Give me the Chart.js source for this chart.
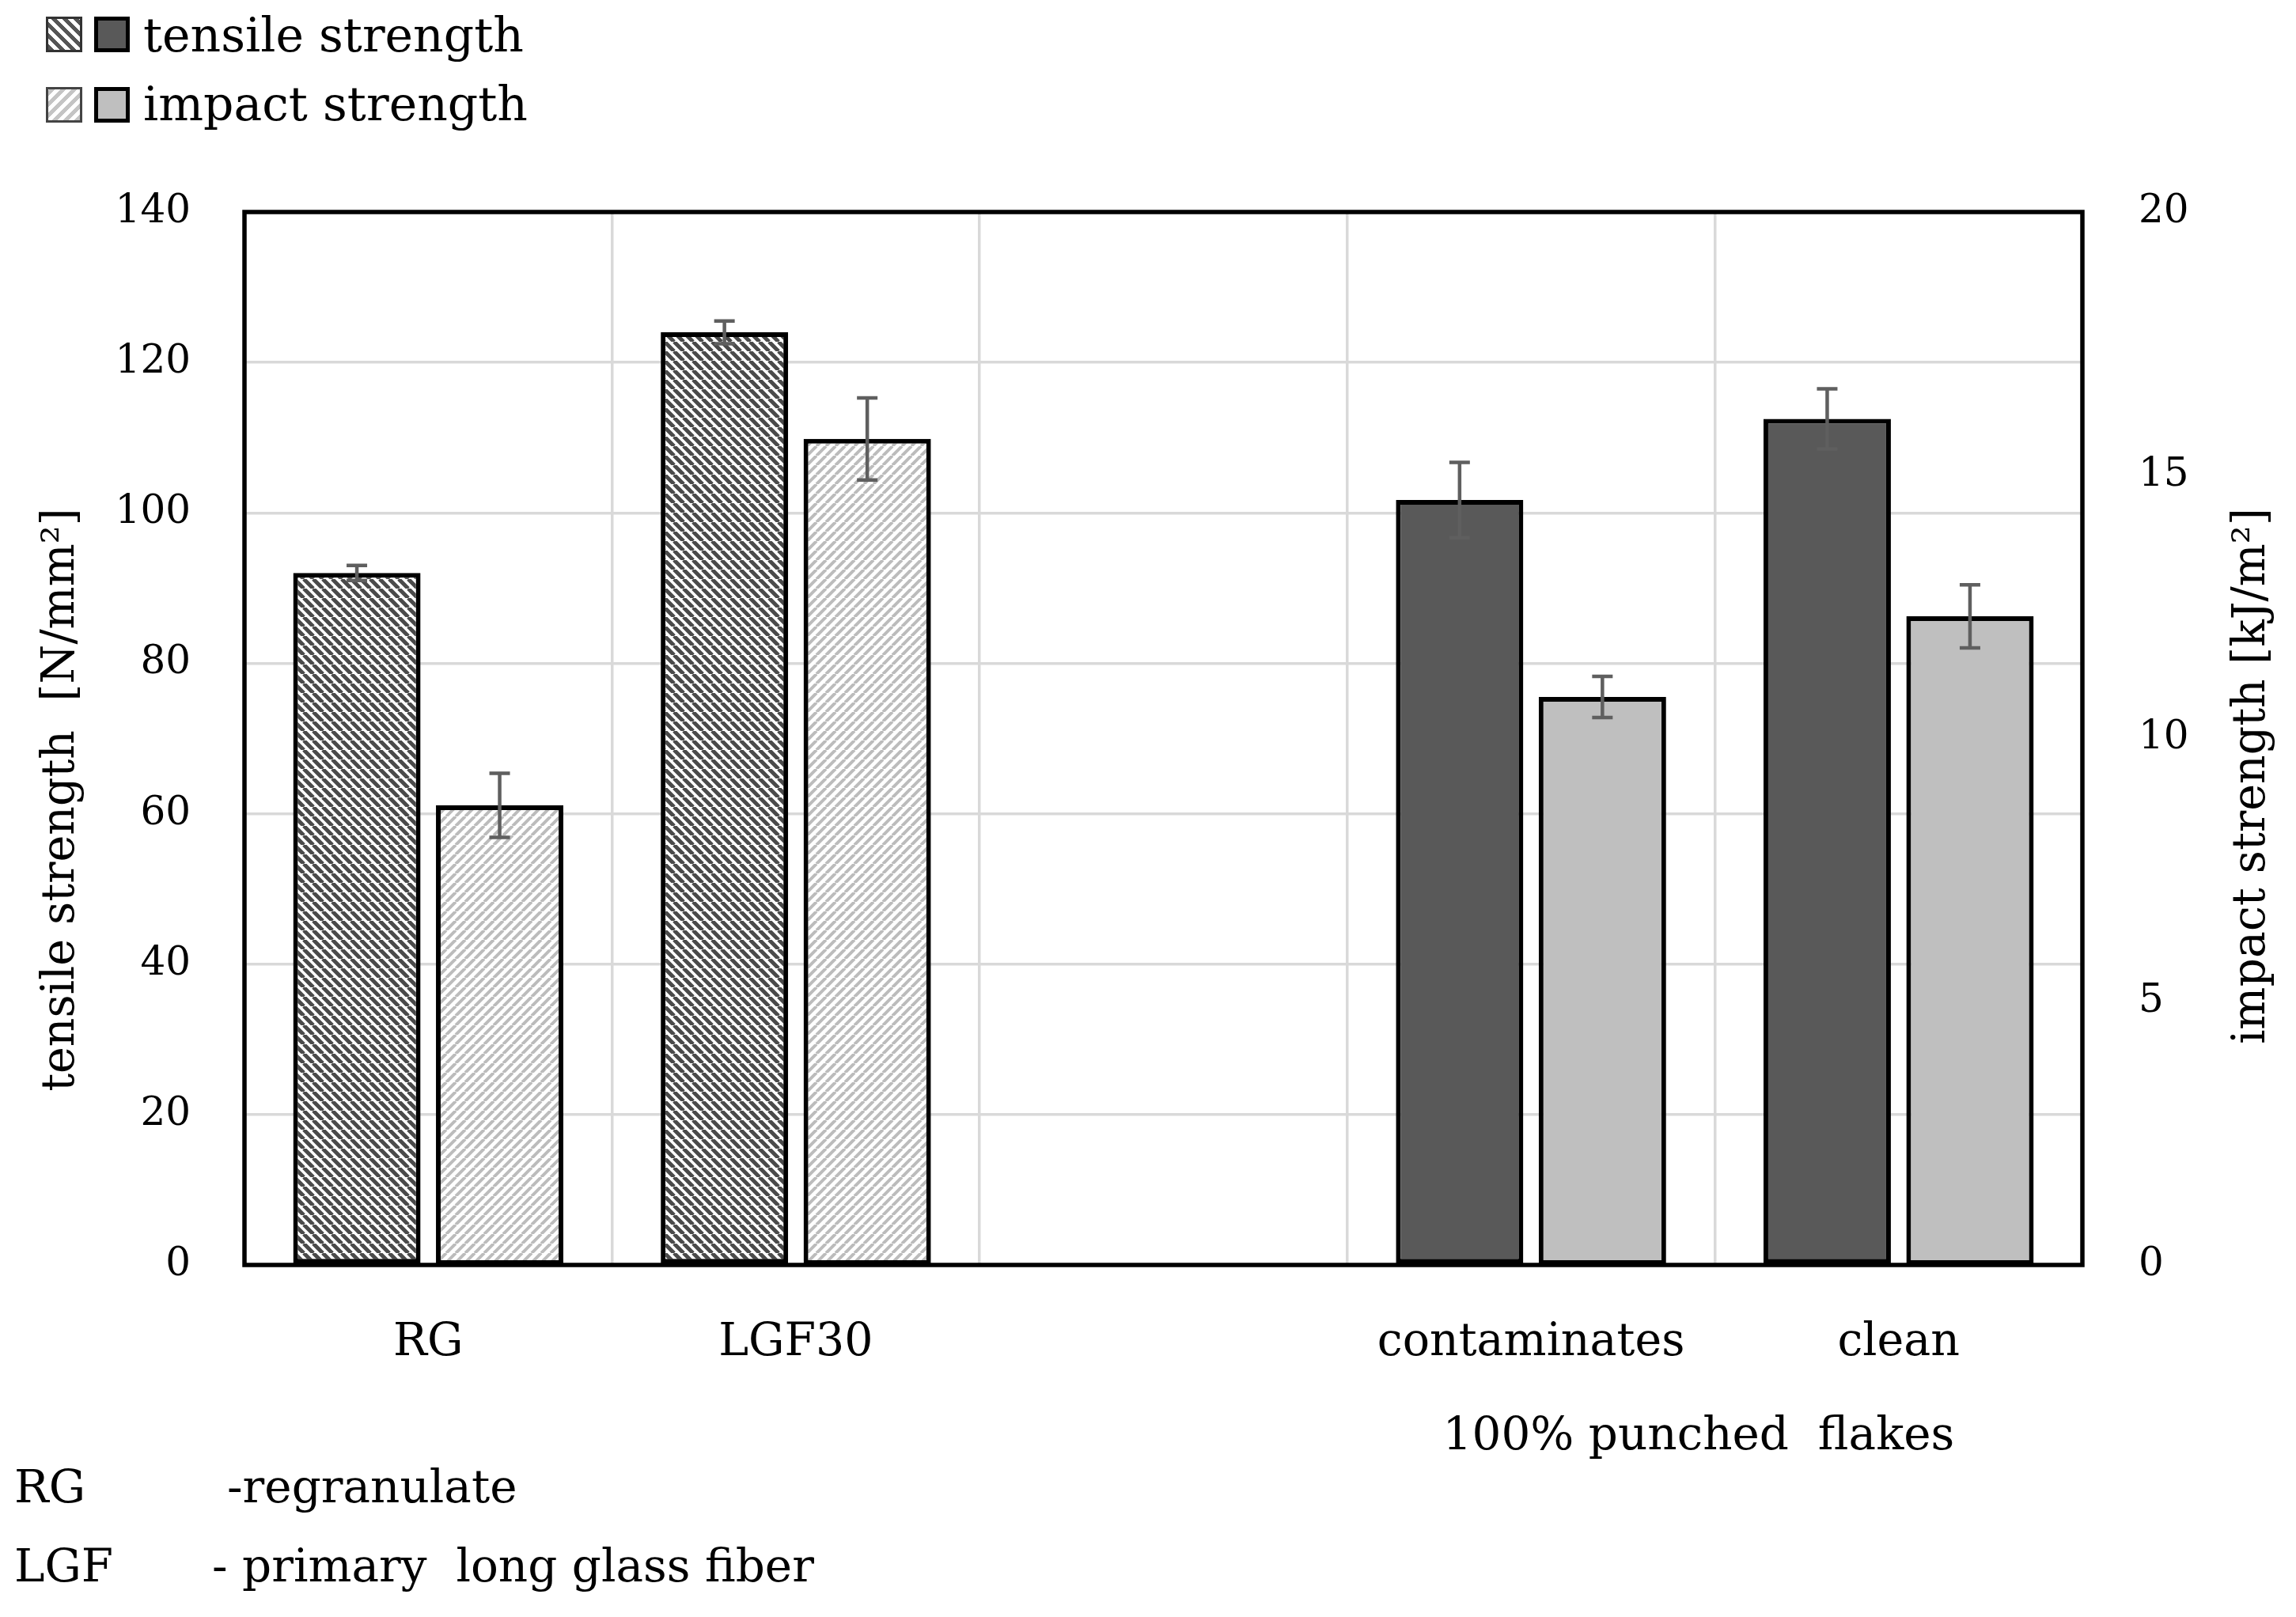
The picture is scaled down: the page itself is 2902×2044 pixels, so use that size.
<!DOCTYPE html>
<html>
<head>
<meta charset="utf-8">
<script src="https://cdn.jsdelivr.net/npm/chart.js@4.4.1/dist/chart.umd.min.js"></script>
<style>
  body { margin: 0; background: #fff; }
  #wrap { position: relative; width: 2902px; height: 2044px; font-family: 'DejaVu Serif', serif; color: #000; }
  #wrap canvas { position: absolute; left: 0; top: 0; }
  .txt { position: absolute; white-space: pre; line-height: 1; transform: translateY(-50%); }
  .box { position: absolute; box-sizing: border-box; }
</style>
</head>
<body>
<div id="wrap">
  <canvas id="strengthChart"></canvas>

  <div class="box" style="left:58px;top:21px;width:46px;height:45px;border:3px solid #333;background:repeating-linear-gradient(45deg,#555 0 5px,#fff 5px 10px);"></div>
  <div class="box" style="left:119px;top:21px;width:45px;height:45px;border:5px solid #000;background:#595959;"></div>
  <div class="txt" style="left:181px;top:44px;font-size:60px;">tensile strength</div>

  <div class="box" style="left:58px;top:110px;width:46px;height:45px;border:3px solid #444;background:repeating-linear-gradient(-45deg,#c4c4c4 0 5px,#fff 5px 10px);"></div>
  <div class="box" style="left:119px;top:110px;width:45px;height:45px;border:5px solid #000;background:#bfbfbf;"></div>
  <div class="txt" style="left:181px;top:131px;font-size:60px;">impact strength</div>

  <div class="txt" style="left:2147px;top:1812px;font-size:58px;transform:translate(-50%,-50%);">100% punched  flakes</div>
  <div class="txt" style="left:18px;top:1879px;font-size:58px;">RG</div>
  <div class="txt" style="left:287px;top:1879px;font-size:58px;">-regranulate</div>
  <div class="txt" style="left:18px;top:1979px;font-size:58px;">LGF</div>
  <div class="txt" style="left:268px;top:1979px;font-size:58px;">- primary  long glass fiber</div>
</div>

<script>
// ---- data ----
const categories = ['RG', 'LGF30', '', 'contaminates', 'clean'];
const tensileValues = [92, 124, null, 101.7, 112.5];
const tensileErrors = [1, 1.5, null, 5, 4];
const impactValues = [8.73, 15.69, null, 10.79, 12.32];
const impactErrors = [0.61, 0.78, null, 0.39, 0.6];
const tensileTicks = [0, 20, 40, 60, 80, 100, 120, 140];
const impactTicks = [0, 5, 10, 15, 20];

const FONT = 'DejaVu Serif';

function makeHatch(color, lineWidth, forward) {
    const s = 12;
    const c = document.createElement('canvas');
    c.width = s; c.height = s;
    const g = c.getContext('2d');
    g.fillStyle = '#fff';
    g.fillRect(0, 0, s, s);
    g.strokeStyle = color;
    g.lineWidth = lineWidth;
    g.beginPath();
    for (let k = -1; k <= 1; k++) {
        if (forward) {
            g.moveTo(k * s, s); g.lineTo(k * s + s, 0);
        } else {
            g.moveTo(k * s, 0); g.lineTo(k * s + s, s);
        }
    }
    g.stroke();
    return g.createPattern(c, 'repeat');
}

const ctx = document.getElementById('strengthChart').getContext('2d');
const darkHatch = makeHatch('#4a4a4a', 5, false);
const lightHatch = makeHatch('#bcbcbc', 4, true);

const errorBars = {
    id: 'errorBars',
    afterDatasetsDraw(chart) {
        const c = chart.ctx;
        const area = chart.chartArea;
        // plot frame
        c.save();
        c.strokeStyle = '#000';
        c.lineWidth = 5.5;
        c.strokeRect(area.left, area.top, area.right - area.left, area.bottom - area.top);
        c.restore();

        chart.data.datasets.forEach((ds, i) => {
            const meta = chart.getDatasetMeta(i);
            const scale = chart.scales[ds.yAxisID];
            meta.data.forEach((bar, j) => {
                const v = ds.data[j];
                const e = ds.errors[j];
                if (v == null) return;
                const yTop = scale.getPixelForValue(v + e);
                const yBot = scale.getPixelForValue(v - e);
                c.save();
                c.strokeStyle = '#5f5f5f';
                c.lineWidth = 4.5;
                c.beginPath();
                c.moveTo(bar.x, yTop); c.lineTo(bar.x, yBot);
                c.moveTo(bar.x - 13, yTop); c.lineTo(bar.x + 13, yTop);
                c.moveTo(bar.x - 13, yBot); c.lineTo(bar.x + 13, yBot);
                c.stroke();
                c.restore();
            });
        });
    },
    afterDraw(chart) {
        const c = chart.ctx;
        c.save();
        c.fillStyle = '#000';
        c.font = '57px "' + FONT + '"';
        c.textAlign = 'center';
        c.textBaseline = 'middle';
        c.translate(78, 1011);
        c.rotate(-Math.PI / 2);
        c.fillText('tensile strength  [N/mm\u00B2]', 0, 0);
        c.restore();

        c.save();
        c.fillStyle = '#000';
        c.font = '57px "' + FONT + '"';
        c.textAlign = 'center';
        c.textBaseline = 'middle';
        c.translate(2847, 981);
        c.rotate(-Math.PI / 2);
        c.fillText('impact strength [kJ/m\u00B2]', 0, 0);
        c.restore();
    }
};

new Chart(ctx, {
    type: 'bar',
    data: {
        labels: categories,
        datasets: [
            {
                label: 'tensile strength',
                data: tensileValues,
                errors: tensileErrors,
                yAxisID: 'y',
                backgroundColor: [darkHatch, darkHatch, '#595959', '#595959', '#595959'],
                borderColor: '#000',
                borderWidth: 6,
                borderSkipped: false,
                categoryPercentage: 0.777,
                barPercentage: 0.892
            },
            {
                label: 'impact strength',
                data: impactValues,
                errors: impactErrors,
                yAxisID: 'y1',
                backgroundColor: [lightHatch, lightHatch, '#bfbfbf', '#bfbfbf', '#bfbfbf'],
                borderColor: '#000',
                borderWidth: 6,
                borderSkipped: false,
                categoryPercentage: 0.777,
                barPercentage: 0.892
            }
        ]
    },
    options: {
        responsive: true,
        maintainAspectRatio: false,
        animation: false,
        devicePixelRatio: 1,
        layout: { padding: { top: 268, left: 0, right: 0, bottom: 0 } },
        plugins: {
            legend: { display: false },
            tooltip: { enabled: false }
        },
        scales: {
            x: {
                grid: { color: '#d9d9d9', lineWidth: 3.5, drawTicks: false, offset: true },
                border: { display: false },
                ticks: {
                    color: '#000',
                    font: { family: FONT, size: 57 },
                    padding: 65,
                    maxRotation: 0,
                    autoSkip: false
                },
                afterFit: s => { s.height = 445; }
            },
            y: {
                position: 'left',
                min: tensileTicks[0],
                max: tensileTicks[tensileTicks.length - 1],
                grid: { color: '#d9d9d9', lineWidth: 3.5, drawTicks: false },
                border: { display: false },
                ticks: {
                    stepSize: tensileTicks[1] - tensileTicks[0],
                    color: '#000',
                    font: { family: FONT, size: 50 },
                    padding: 68
                },
                afterFit: s => { s.width = 309; }
            },
            y1: {
                position: 'right',
                min: impactTicks[0],
                max: impactTicks[impactTicks.length - 1],
                grid: { display: false, drawTicks: false },
                border: { display: false },
                ticks: {
                    stepSize: impactTicks[1] - impactTicks[0],
                    color: '#000',
                    font: { family: FONT, size: 50 },
                    padding: 71
                },
                afterFit: s => { s.width = 270; }
            }
        }
    },
    plugins: [errorBars]
});
</script>
</body>
</html>
